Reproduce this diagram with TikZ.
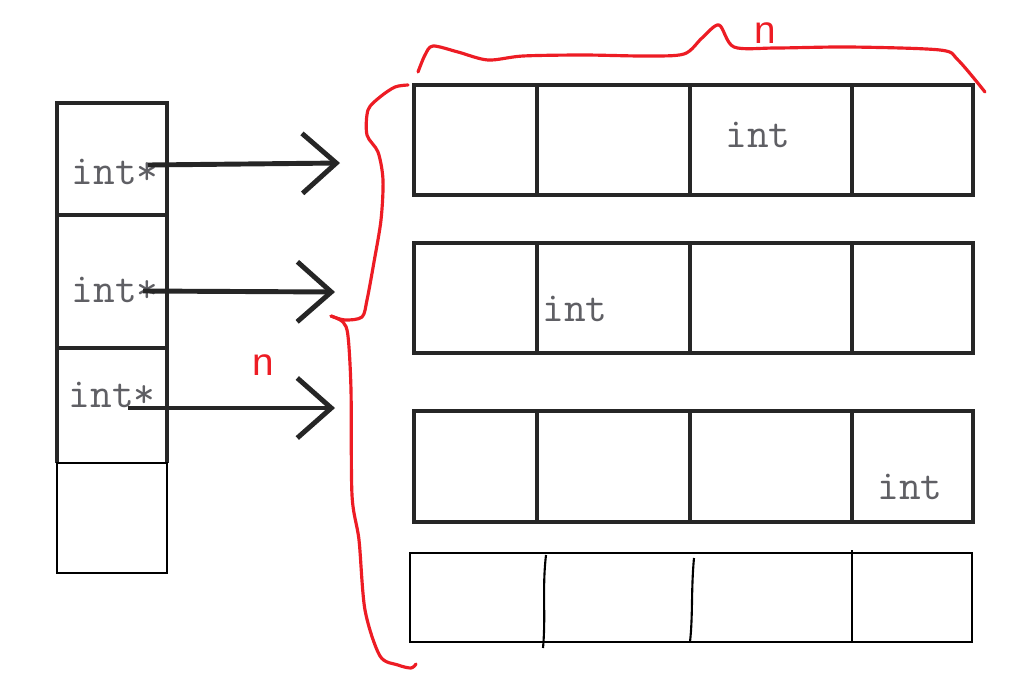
\documentclass[tikz,border=0pt]{standalone}
\usepackage{fontspec}
\setsansfont{Liberation Sans}
\usetikzlibrary{arrows.meta}
\definecolor{InkGray}{RGB}{38,38,38}
\definecolor{TextGray}{RGB}{95,95,100}
\definecolor{PenRed}{RGB}{237,28,36}

\begin{document}
\begin{tikzpicture}[x=0.02cm,y=-0.02cm,>={Straight Barb[length=0.68cm,width=1.2cm]}]
  \tikzset{
    boxline/.style={draw=InkGray,line width=2.7pt},
    thinline/.style={draw=black,line width=1.2pt},
    ptrarrow/.style={->,InkGray,line width=2.8pt},
    celltext/.style={anchor=base,inner sep=0pt,text=TextGray,font=\ttfamily\fontsize{24}{24}\selectfont},
    penline/.style={PenRed,line width=1.8pt,line cap=round,line join=round},
    pentext/.style={text=PenRed,inner sep=0pt,font=\sffamily\fontsize{22}{22}\selectfont}
  }
  \useasboundingbox[fill=white] (0,0) rectangle (1035,687);

  % pointer column
  \draw[boxline] (57,463) -- (57,103) -- (167,103) -- (167,463);
  \foreach \y in {215,348} \draw[boxline] (57,\y) -- (167,\y);
  \draw[thinline] (57,463) rectangle (167,573);
  \node[celltext] (p1) at (115,184) {int*};
  \node[celltext] (p2) at (115,302) {int*};
  \node[celltext] (p3) at (112,407) {int*};

  % rows of ints
  \foreach \t/\b in {85/195,243/353,411/522}{
    \draw[boxline] (414,\t) rectangle (973,\b);
    \foreach \x in {537,690,852} \draw[boxline] (\x,\t) -- (\x,\b);
  }
  \node[celltext] (v1) at (758,147) {int};
  \node[celltext] (v2) at (575,321) {int};
  \node[celltext] (v3) at (910,499) {int};

  % last row, drawn by hand
  \draw[thinline] (410,553) rectangle (972,642);
  \draw[thinline] (546,555) .. controls (542,590) and (546,615) .. (543,648);
  \draw[thinline] (694,558) .. controls (691,590) and (693,615) .. (690,642);
  \draw[thinline] (852,550) -- (852,642);

  % pointers
  \coordinate (a1s) at (148,165); \coordinate (a1e) at (340,163);
  \coordinate (a2s) at (143,291); \coordinate (a2e) at (335,292);
  \coordinate (a3s) at (128,408); \coordinate (a3e) at (335,408);
  \draw[ptrarrow] (a1s) -- (a1e);
  \draw[ptrarrow] (a2s) -- (a2e);
  \draw[ptrarrow] (a3s) -- (a3e);

  % red braces
  \draw[penline] plot[smooth,tension=0.5] coordinates {(418,72) (425,55) (433,46) (458,52)
    (488,60) (523,56) (584,55) (645,56) (684,54) (702,38) (719,25) (734,47) (776,48)
    (850,47) (940,50) (958,60) (985,92)};
  \node[pentext] (ncol) at (765,33) {n};
  \draw[penline] plot[smooth,tension=0.5] coordinates {(408,85) (395,87) (380,97) (368,110)
    (367,135) (378,152) (383,180) (381,220) (374,262) (367,300) (362,317) (345,320) (331,316)};
  \draw[penline] plot[smooth,tension=0.5] coordinates {(331,316) (343,322) (348,336)
    (351,390) (352,495) (359,540) (365,610) (380,656) (398,665) (411,668) (416,664)};
  \node[pentext] (nrow) at (263,365) {n};
\end{tikzpicture}
\end{document}
